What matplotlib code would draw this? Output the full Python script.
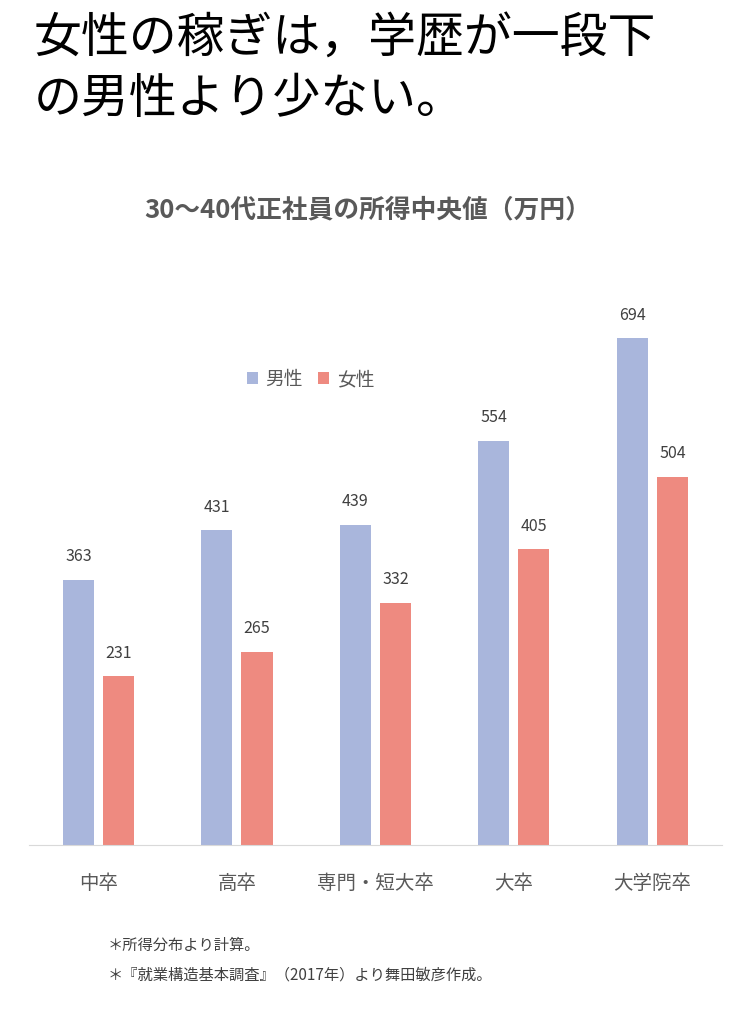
import matplotlib
matplotlib.use("Agg")
import matplotlib.pyplot as plt
import numpy as np

plt.rcParams['font.family'] = ['Noto Sans CJK JP', 'DejaVu Sans']

categories = ["中卒", "高卒", "専門・短大卒", "大卒", "大学院卒"]
male = [363, 431, 439, 554, 694]
female = [231, 265, 332, 405, 504]

fig = plt.figure(figsize=(7.5, 10.16), dpi=100)
fig.text(0.045, 0.962, "女性の稼ぎは，学歴が一段下", fontsize=34.5, va='center', color='black')
fig.text(0.045, 0.902, "の男性より少ない。", fontsize=34.5, va='center', color='black')
fig.text(0.49, 0.793, "30〜40代正社員の所得中央値（万円）", fontsize=18.5, fontweight='bold',
         ha='center', va='center', color='#595959')

ax = fig.add_axes([0.039, 0.1683, 0.923, 0.536])
x = np.arange(len(categories))
w = 0.224
off = 0.145
b1 = ax.bar(x - off, male, w, color='#A9B6DC', label='男性')
b2 = ax.bar(x + off, female, w, color='#EE8A80', label='女性')
for bars, vals in ((b1, male), (b2, female)):
    for r, v in zip(bars, vals):
        ax.text(r.get_x() + r.get_width() / 2, v + 20, str(v), ha='center', va='bottom',
                fontsize=11.5, color='#404040')
ax.set_xlim(-0.5, 4.5)
ax.set_ylim(0, 746)
ax.set_xticks(x)
ax.set_xticklabels(categories, fontsize=14, color='#595959')
ax.tick_params(axis='x', length=0, pad=20)
ax.set_yticks([])
for s in ['top', 'right', 'left']:
    ax.spines[s].set_visible(False)
ax.spines['bottom'].set_color('#D9D9D9')
ax.legend(loc='upper left', bbox_to_anchor=(0.29, 0.905), ncol=2, frameon=False,
          fontsize=13.5, handlelength=0.6, handleheight=0.6, columnspacing=0.8,
          handletextpad=0.4, labelcolor='#595959')

fig.text(0.143, 0.070, "＊所得分布より計算。", fontsize=11, color='#404040', va='center')
fig.text(0.143, 0.040, "＊『就業構造基本調査』（2017年）より舞田敏彦作成。", fontsize=11,
         color='#404040', va='center')

fig.savefig("out.png", dpi=100, facecolor='white')
